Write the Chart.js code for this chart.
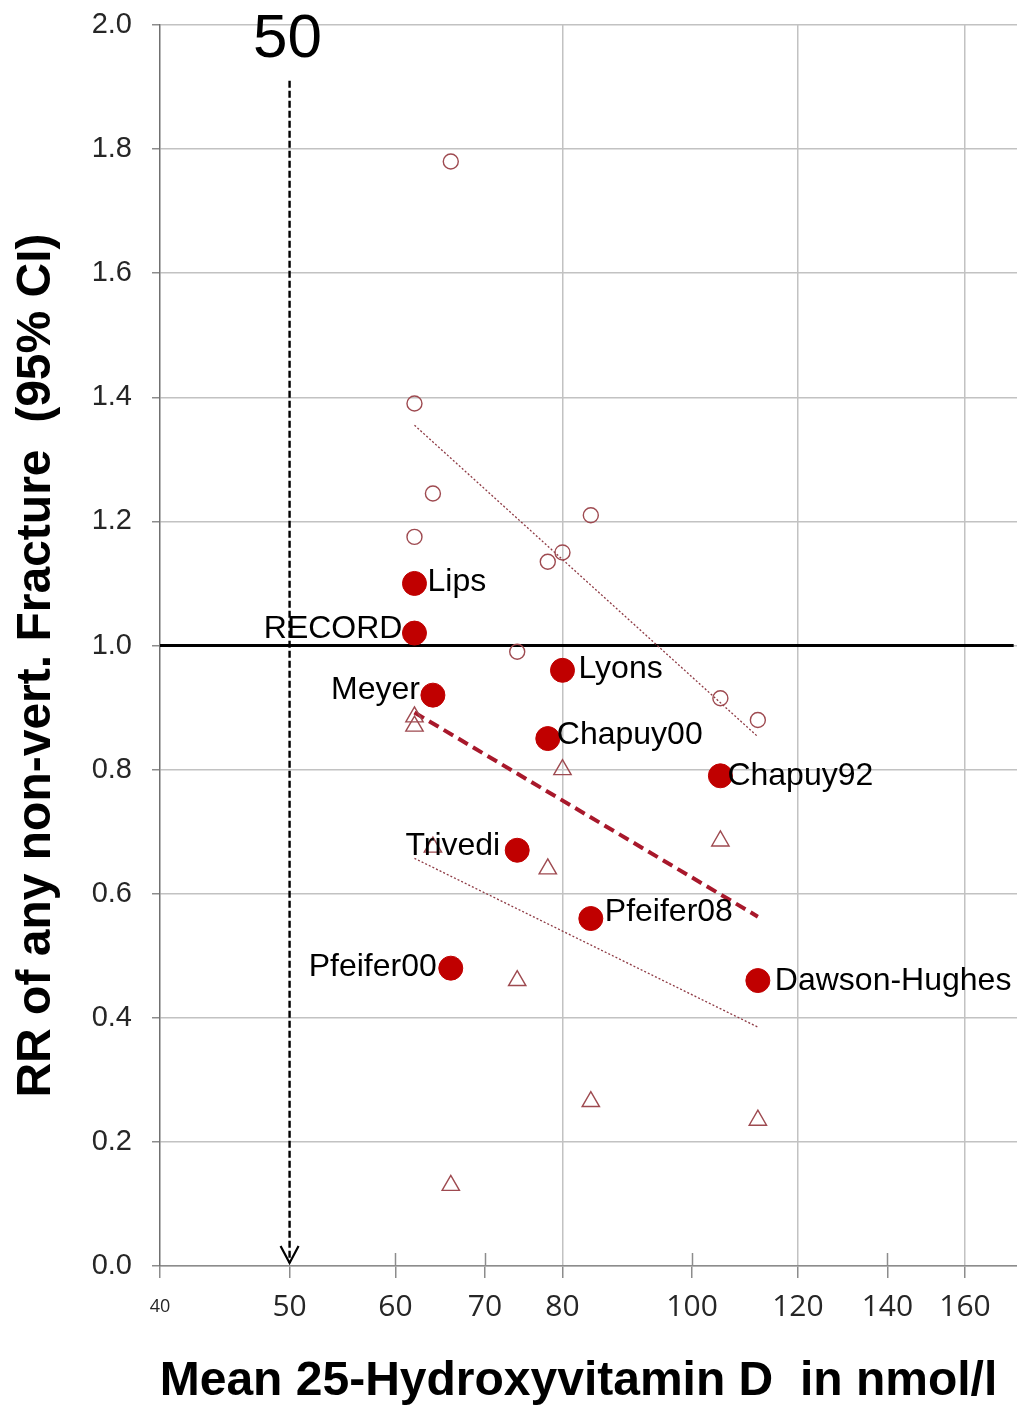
<!DOCTYPE html>
<html>
<head>
<meta charset="utf-8">
<script src="https://cdn.jsdelivr.net/npm/chart.js@4/dist/chart.umd.min.js"></script>
<style>
  html, body { margin: 0; padding: 0; background: #ffffff; }
  #wrap { width: 1017px; height: 1411px; }
</style>
</head>
<body>
<div id="wrap"><canvas id="chart" width="1017" height="1411"></canvas></div>
<script>
// Studies of vitamin D supplementation: mean achieved 25(OH)D vs. relative risk of non-vertebral fracture
const studies   = ['Lips', 'RECORD', 'Meyer', 'Lyons', 'Chapuy00', 'Chapuy92', 'Trivedi', 'Pfeifer08', 'Pfeifer00', 'Dawson-Hughes'];
const meanVitD  = [62, 62, 64, 80, 78, 105, 74, 84, 66, 112];
const relRisk   = [1.10, 1.02, 0.92, 0.96, 0.85, 0.79, 0.67, 0.56, 0.48, 0.46];
const ciUpper   = [1.39, 1.175, 1.245, 1.15, 1.135, 0.915, 0.99, 1.21, 1.78, 0.88];
const ciLower   = [0.87, 0.885, 0.675, 0.80, 0.64, 0.685, 0.46, 0.265, 0.13, 0.235];

// Fitted trend lines (end points along the studied range)
const trendX      = [62, 112];
const trendUpper  = [1.355, 0.853];
const trendRR     = [0.892, 0.563];
const trendLower  = [0.657, 0.385];

// Reference threshold of 50 nmol/l and the RR = 1 line
const thresholdVitD = 50;
const thresholdTop  = 1.91;
const nullRR        = 1.0;

// Axis ticks
const xTickValues = [40, 50, 60, 70, 80, 100, 120, 140, 160];
const xGridValues = [80, 120, 160];
const xInnerTickValues = [60, 70, 100, 140];
const yTickStep = 0.2;

// Which side of the marker each study label sits on, with a small nudge
const labelSide = ['right', 'left', 'left', 'right', 'right', 'right', 'left', 'right', 'left', 'right'];
const labelGapX = [13, 12, 13, 16, 9, 7, 17, 14, 14, 17];
const labelGapY = [-1, -4, -5, -1, -3, 0, -4, -6, -1, 1];

const toPoints = (xs, ys) => xs.map((x, i) => ({ x: x, y: ys[i] }));

const RED = '#C00000';
const CI_COLOR = '#9E4A50';
const TREND_THIN = '#8E3A44';
const TREND_BOLD = '#A8182B';

// Study names beside the point estimates
const studyLabels = {
  id: 'studyLabels',
  afterDatasetsDraw(chart) {
    const meta = chart.getDatasetMeta(0);
    const ctx = chart.ctx;
    ctx.save();
    ctx.font = '32px "Liberation Sans", Arial, sans-serif';
    ctx.fillStyle = '#000000';
    ctx.textBaseline = 'middle';
    meta.data.forEach((pt, i) => {
      const right = labelSide[i] === 'right';
      ctx.textAlign = right ? 'left' : 'right';
      ctx.fillText(studies[i], pt.x + (right ? labelGapX[i] : -labelGapX[i]), pt.y + labelGapY[i]);
    });
    ctx.restore();
  }
};

// Arrow head and value for the 50 nmol/l threshold, plus the short inner tick marks on the x axis
const thresholdMarks = {
  id: 'thresholdMarks',
  afterDatasetsDraw(chart) {
    const ctx = chart.ctx;
    const xs = chart.scales.x, ys = chart.scales.y;
    const px = xs.getPixelForValue(thresholdVitD);
    const tip = ys.getPixelForValue(0) - 3;
    ctx.save();
    ctx.strokeStyle = '#000000';
    ctx.lineWidth = 2.2;
    ctx.setLineDash([]);
    ctx.beginPath();
    ctx.moveTo(px - 9, tip - 17);
    ctx.lineTo(px, tip);
    ctx.lineTo(px + 9, tip - 17);
    ctx.stroke();

    ctx.font = '62px "Liberation Sans", Arial, sans-serif';
    ctx.fillStyle = '#000000';
    ctx.textAlign = 'center';
    ctx.textBaseline = 'alphabetic';
    ctx.fillText(String(thresholdVitD), px - 2, chart.chartArea.top + 32);

    ctx.strokeStyle = '#8c8c8c';
    ctx.lineWidth = 1.5;
    const base = chart.chartArea.bottom;
    xInnerTickValues.forEach(v => {
      const tx = Math.round(xs.getPixelForValue(v)) + 0.5;
      ctx.beginPath();
      ctx.moveTo(tx, base - 13);
      ctx.lineTo(tx, base);
      ctx.stroke();
    });
    ctx.restore();
  }
};

// Nudge the axis titles along their axes (y title sits a little low, x title a little left)
const titleShift = {
  id: 'titleShift',
  afterLayout(chart) {
    const shifts = { y: { dy: 20, dx: 0 }, x: { dy: 0, dx: -10 } };
    Object.keys(shifts).forEach(id => {
      const scale = chart.scales[id];
      if (!scale || scale._titleShifted) return;
      const orig = scale.drawTitle;
      const s = shifts[id];
      scale.drawTitle = function () {
        const t = this.top, b = this.bottom, l = this.left, r = this.right;
        this.top += s.dy; this.bottom += s.dy; this.left += s.dx; this.right += s.dx;
        orig.apply(this, arguments);
        this.top = t; this.bottom = b; this.left = l; this.right = r;
      };
      scale._titleShifted = true;
    });
  }
};

new Chart(document.getElementById('chart'), {
  type: 'scatter',
  data: {
    datasets: [
      {
        label: 'RR',
        data: toPoints(meanVitD, relRisk),
        pointStyle: 'circle',
        pointRadius: 12,
        pointBackgroundColor: RED,
        pointBorderColor: RED,
        pointBorderWidth: 1
      },
      {
        label: 'Upper 95% CI',
        data: toPoints(meanVitD, ciUpper),
        pointStyle: 'circle',
        pointRadius: 7.5,
        pointBackgroundColor: 'rgba(0,0,0,0)',
        pointBorderColor: CI_COLOR,
        pointBorderWidth: 1.4
      },
      {
        label: 'Lower 95% CI',
        data: toPoints(meanVitD, ciLower),
        pointStyle: 'triangle',
        pointRadius: 10,
        pointBackgroundColor: 'rgba(0,0,0,0)',
        pointBorderColor: CI_COLOR,
        pointBorderWidth: 1.4
      },
      {
        label: 'Trend RR',
        data: toPoints(trendX, trendRR),
        showLine: true,
        borderColor: TREND_BOLD,
        borderWidth: 4,
        borderDash: [11, 6],
        pointRadius: 0
      },
      {
        label: 'Trend upper CI',
        data: toPoints(trendX, trendUpper),
        showLine: true,
        borderColor: TREND_THIN,
        borderWidth: 1.3,
        borderDash: [2, 2],
        pointRadius: 0
      },
      {
        label: 'Trend lower CI',
        data: toPoints(trendX, trendLower),
        showLine: true,
        borderColor: TREND_THIN,
        borderWidth: 1.3,
        borderDash: [2, 2],
        pointRadius: 0
      },
      {
        label: 'RR = 1',
        data: [{ x: 40, y: nullRR }, { x: 174, y: nullRR }],
        showLine: true,
        borderColor: '#000000',
        borderWidth: 3,
        pointRadius: 0
      },
      {
        label: '50 nmol/l',
        data: [{ x: thresholdVitD, y: thresholdTop }, { x: thresholdVitD, y: 0.005 }],
        showLine: true,
        borderColor: '#000000',
        borderWidth: 2.4,
        borderDash: [7, 3],
        pointRadius: 0
      }
    ]
  },
  options: {
    responsive: false,
    animation: false,
    devicePixelRatio: 1,
    layout: { autoPadding: false, padding: { top: 25, right: 0, bottom: 0, left: 0 } },
    plugins: {
      legend: { display: false },
      tooltip: { enabled: false }
    },
    scales: {
      x: {
        type: 'logarithmic',
        position: 'bottom',
        min: 40,
        max: 175,
        afterBuildTicks: (scale) => { scale.ticks = xTickValues.map(v => ({ value: v })); },
        afterFit: (scale) => {
          scale.height = 145;
          scale.paddingLeft = 0; scale.paddingRight = 0;
        },
        border: { display: true, color: '#8c8c8c', width: 1.5 },
        grid: {
          color: (c) => (c.tick && xGridValues.includes(c.tick.value)) ? '#c2c2c2' : 'rgba(0,0,0,0)',
          lineWidth: 1.5,
          tickColor: '#8c8c8c',
          tickLength: 12,
          drawTicks: true
        },
        ticks: {
          autoSkip: false,
          maxRotation: 0,
          minRotation: 0,
          padding: 11,
          color: '#262626',
          font: (c) => (c.tick && c.tick.value === 40)
            ? { family: '"Open Sans", sans-serif', size: 18, lineHeight: 2.0 }
            : { family: '"Open Sans", sans-serif', size: 30, lineHeight: 1.2 },
          callback: (value) => String(value)
        },
        title: {
          display: true,
          text: 'Mean 25-Hydroxyvitamin D  in nmol/l',
          color: '#000000',
          font: { family: '"Liberation Sans", Arial, sans-serif', size: 48, weight: 'bold' },
          padding: { top: 0, bottom: 0 }
        }
      },
      y: {
        type: 'linear',
        position: 'left',
        min: 0,
        max: 2,
        afterFit: (scale) => {
          scale.width = 160;
          scale.paddingTop = 0; scale.paddingBottom = 0;
        },
        border: { display: true, color: '#707070', width: 1.5 },
        grid: {
          color: '#c2c2c2',
          lineWidth: 1.5,
          tickColor: '#8c8c8c',
          tickLength: 8
        },
        ticks: {
          stepSize: yTickStep,
          padding: 20,
          color: '#262626',
          font: { family: '"Liberation Sans", Arial, sans-serif', size: 29 },
          callback: (value) => Number(value).toFixed(1)
        },
        title: {
          display: true,
          text: 'RR of any non-vert. Fracture  (95% CI)',
          color: '#000000',
          font: { family: '"Liberation Sans", Arial, sans-serif', size: 48, weight: 'bold' },
          padding: { top: 8, bottom: 0 }
        }
      }
    }
  },
  plugins: [studyLabels, thresholdMarks, titleShift]
});
</script>
</body>
</html>
